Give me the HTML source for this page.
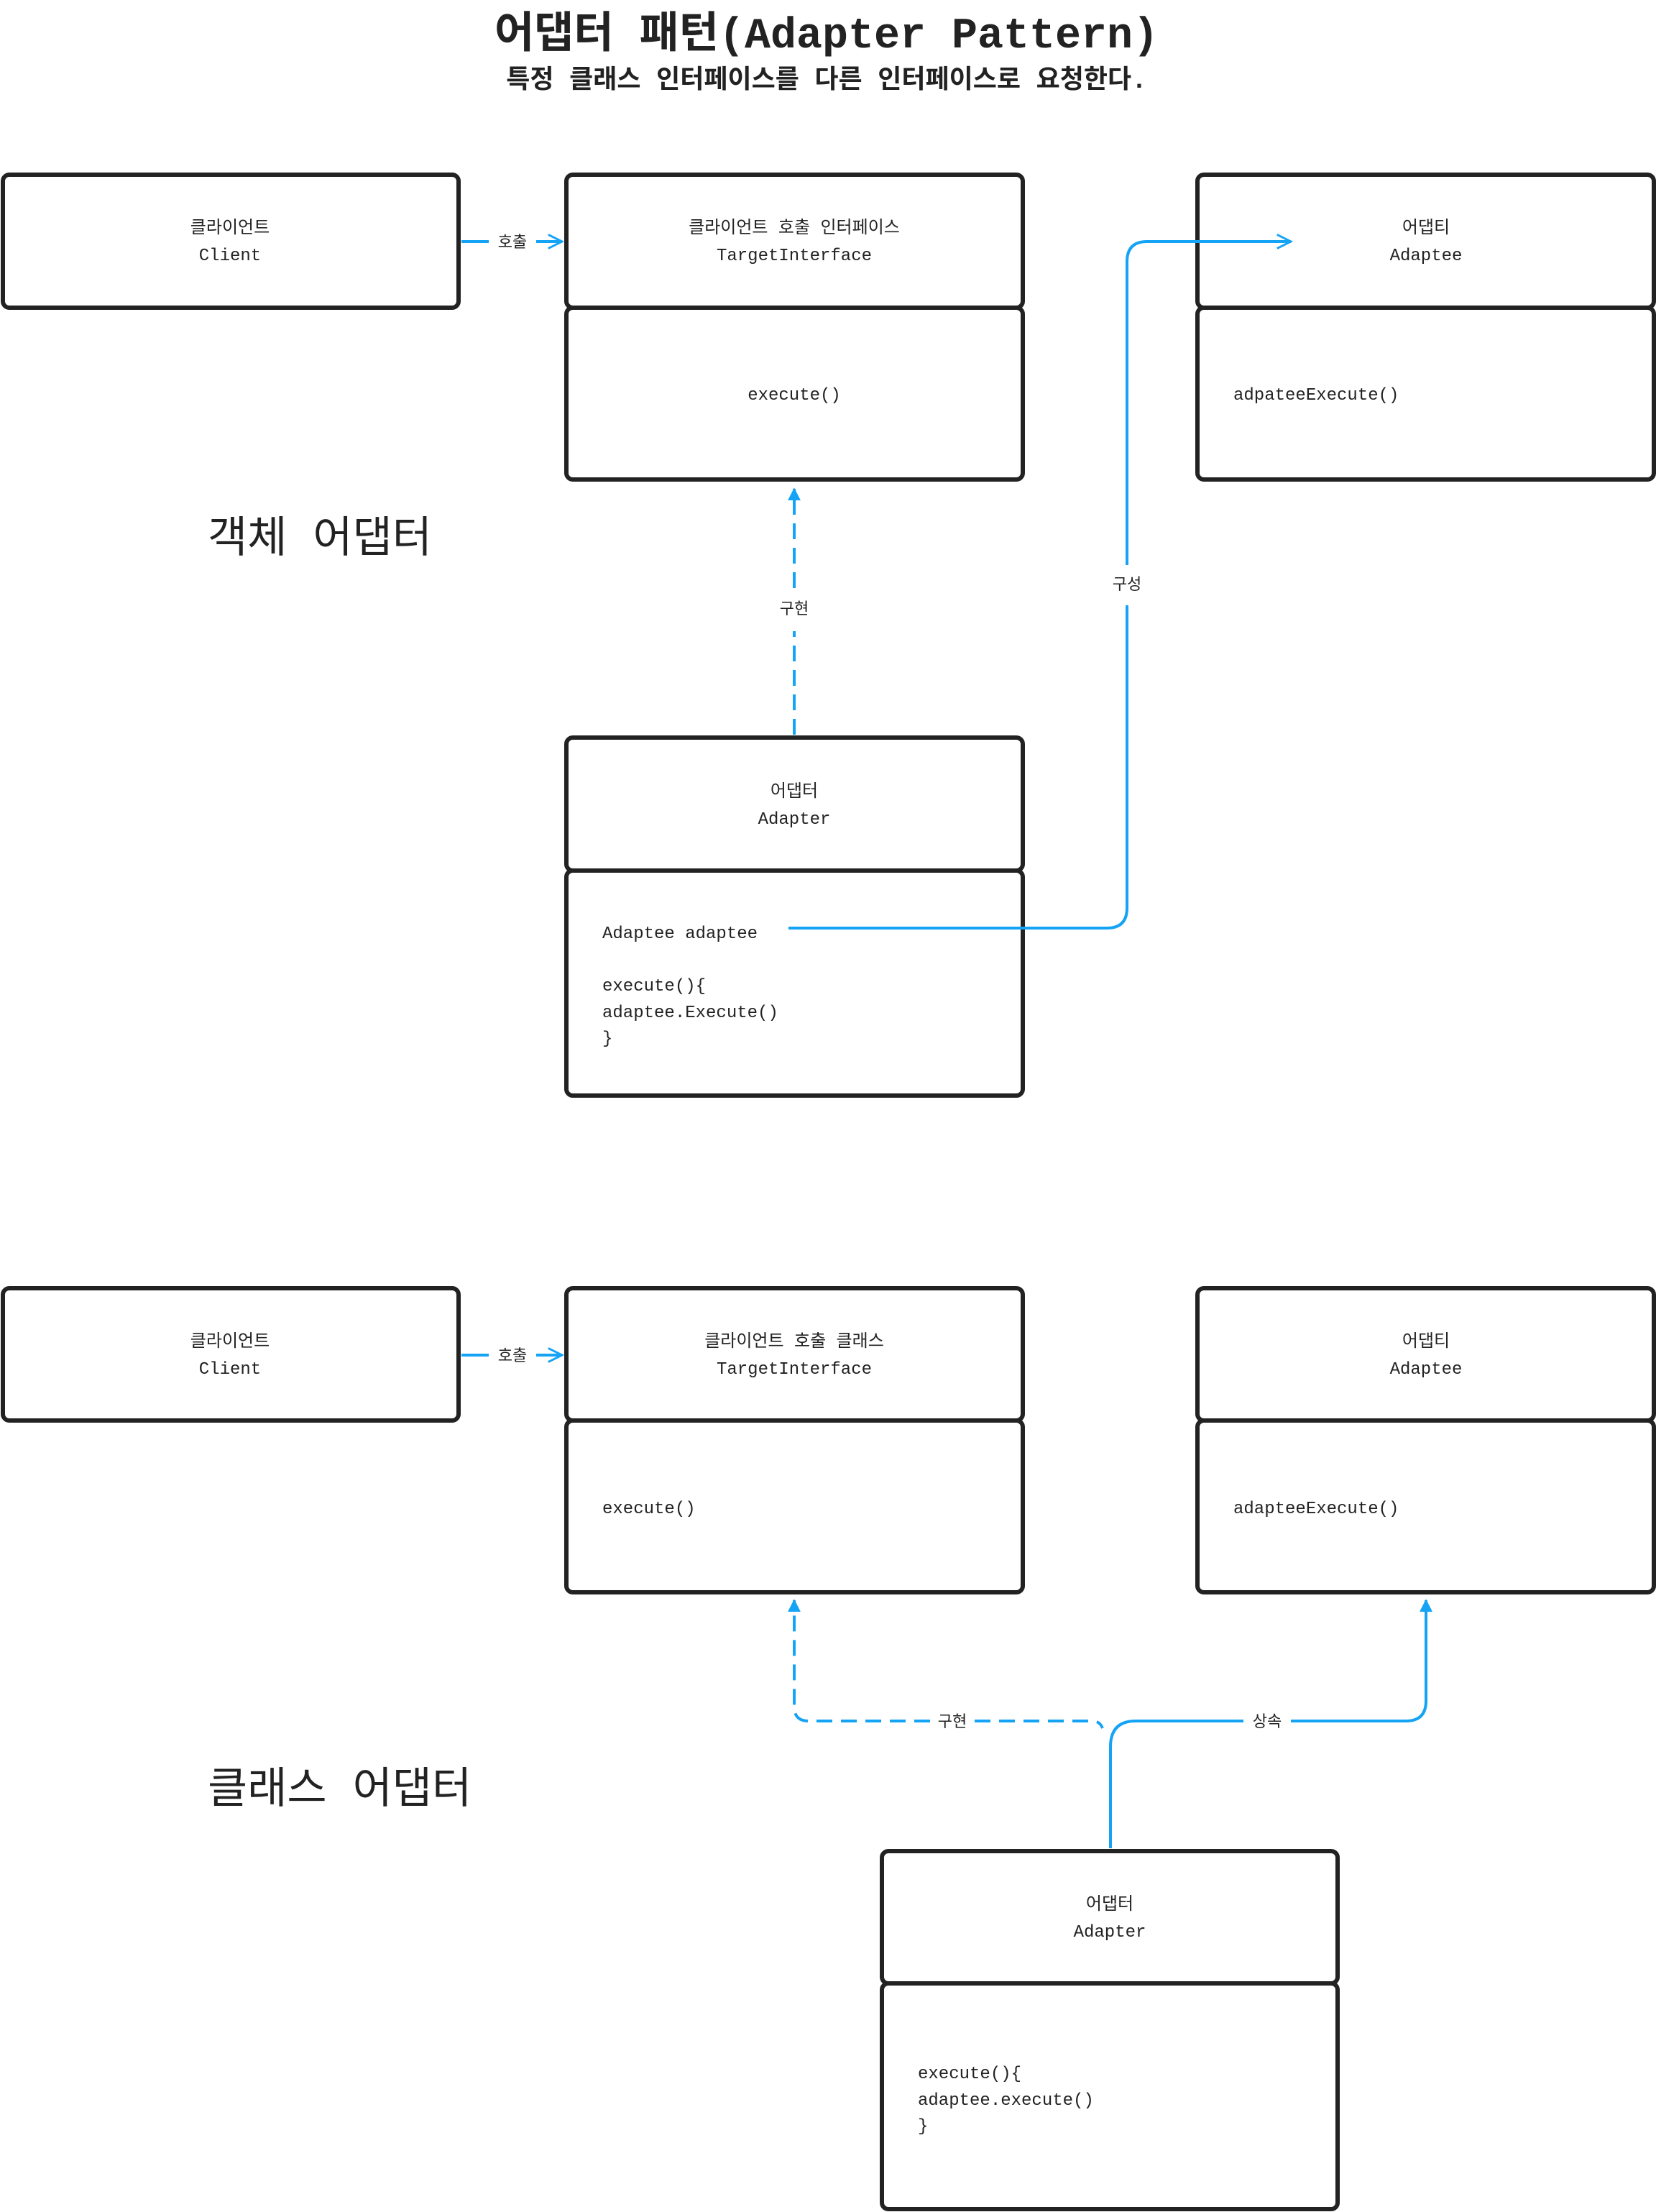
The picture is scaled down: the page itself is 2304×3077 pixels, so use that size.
<!DOCTYPE html>
<html><head><meta charset="utf-8"><style>
html,body{margin:0;padding:0;background:#fff;}
svg{display:block;}
text{font-family:"Liberation Mono","Noto Sans CJK KR",monospace;fill:#222;}
</style></head><body>
<svg width="2304" height="3077" viewBox="0 0 2304 3077" xmlns="http://www.w3.org/2000/svg">
<defs>
<marker id="tri" viewBox="0 0 10 10" refX="9" refY="5" markerWidth="4.5" markerHeight="4.5" orient="auto"><path d="M0,0 L10,5 L0,10 z" fill="#15a3f5"/></marker>
<marker id="open" viewBox="0 0 10 10" refX="9" refY="5" markerWidth="6" markerHeight="6" orient="auto"><path d="M1,1 L9,5 L1,9" fill="none" stroke="#15a3f5" stroke-width="1.2"/></marker>
</defs>
<text x="1150" y="66" font-size="60" font-weight="bold" text-anchor="middle">어댑터 패턴(Adapter Pattern)</text>
<text x="1150" y="122" font-size="36" font-weight="bold" text-anchor="middle">특정 클래스 인터페이스를 다른 인터페이스로 요청한다.</text>

<g fill="#fff" stroke="#222" stroke-width="6">
<rect x="4" y="243" width="634" height="185" rx="9"/>
<rect x="788" y="243" width="635" height="185" rx="9"/>
<rect x="788" y="428" width="635" height="239" rx="9"/>
<rect x="1666" y="243" width="635" height="185" rx="9"/>
<rect x="1666" y="428" width="635" height="239" rx="9"/>
<rect x="788" y="1026" width="635" height="185" rx="9"/>
<rect x="788" y="1211" width="635" height="313" rx="9"/>

<rect x="4" y="1792" width="634" height="184" rx="9"/>
<rect x="788" y="1792" width="635" height="184" rx="9"/>
<rect x="788" y="1976" width="635" height="239" rx="9"/>
<rect x="1666" y="1792" width="635" height="184" rx="9"/>
<rect x="1666" y="1976" width="635" height="239" rx="9"/>
<rect x="1227" y="2575" width="634" height="184" rx="9"/>
<rect x="1227" y="2759" width="634" height="314" rx="9"/>
</g>

<g font-size="24" text-anchor="middle">
<text x="320" y="324">클라이언트</text><text x="320" y="362">Client</text>
<text x="1105" y="324">클라이언트 호출 인터페이스</text><text x="1105" y="362">TargetInterface</text>
<text x="1105" y="556">execute()</text>
<text x="1984" y="324">어댑티</text><text x="1984" y="362">Adaptee</text>
<text x="1105" y="1108">어댑터</text><text x="1105" y="1146">Adapter</text>

<text x="320" y="1873">클라이언트</text><text x="320" y="1911">Client</text>
<text x="1105" y="1873">클라이언트 호출 클래스</text><text x="1105" y="1911">TargetInterface</text>
<text x="1984" y="1873">어댑티</text><text x="1984" y="1911">Adaptee</text>
<text x="1544" y="2656">어댑터</text><text x="1544" y="2694">Adapter</text>
</g>
<g font-size="24">
<text x="1716" y="556">adpateeExecute()</text>
<text x="838" y="1305">Adaptee adaptee</text>
<text x="838" y="1378">execute(){</text>
<text x="838" y="1415">adaptee.Execute()</text>
<text x="838" y="1451">}</text>
<text x="838" y="2105">execute()</text>
<text x="1716" y="2105">adapteeExecute()</text>
<text x="1277" y="2891">execute(){</text>
<text x="1277" y="2928">adaptee.execute()</text>
<text x="1277" y="2964">}</text>
</g>
<text x="289" y="768" font-size="60" font-family="Liberation Sans,Noto Sans CJK KR,sans-serif">객체 어댑터</text>
<text x="289" y="2508" font-size="60" font-family="Liberation Sans,Noto Sans CJK KR,sans-serif">클래스 어댑터</text>

<g fill="none" stroke="#15a3f5" stroke-width="4">
<path d="M642 336 H680"/><path d="M746 336 H782" marker-end="url(#open)"/>
<path d="M642 1885 H680"/><path d="M746 1885 H782" marker-end="url(#open)"/>
<path d="M1105 1022 V878" stroke-dasharray="22 12"/><path d="M1105 818 V680" stroke-dasharray="22 12" marker-end="url(#tri)"/>
<path d="M1097 1291 H1540 Q1568 1291 1568 1263 V842"/>
<path d="M1568 786 V364 Q1568 336 1596 336 H1796" marker-end="url(#open)"/>
<path d="M1294 2394 H1125 Q1105 2394 1105 2374 V2226" stroke-dasharray="22 12" marker-end="url(#tri)"/>
<path d="M1356 2394 H1520 Q1530 2394 1534 2404" stroke-dasharray="22 12"/>
<path d="M1545 2571 V2430 Q1545 2394 1580 2394 H1730"/>
<path d="M1796 2394 H1956 Q1984 2394 1984 2366 V2226" marker-end="url(#tri)"/>
</g>
<g font-size="22" text-anchor="middle">
<text x="713" y="344">호출</text><text x="713" y="1893">호출</text>
<text x="1105" y="854">구현</text><text x="1568" y="820">구성</text>
<text x="1325" y="2402">구현</text><text x="1763" y="2402">상속</text>
</g>
</svg>
</body></html>
